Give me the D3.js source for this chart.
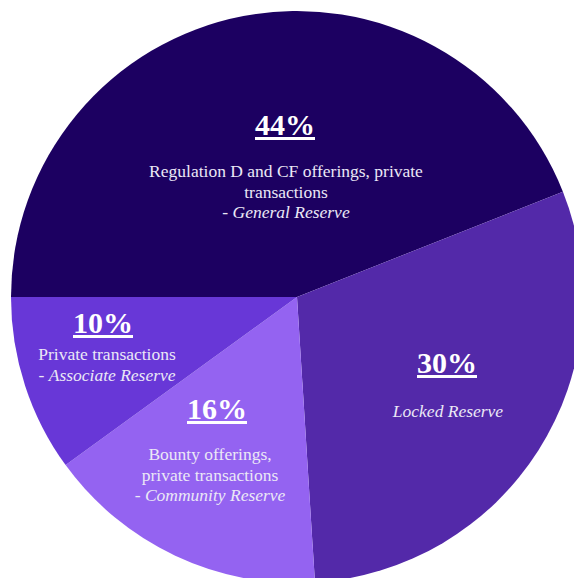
<!DOCTYPE html>
<html>
<head>
<meta charset="utf-8">
<script src="https://cdn.jsdelivr.net/npm/d3@7.9.0/dist/d3.min.js"></script>
<style>
  html, body { margin: 0; padding: 0; background: #fff; }
  svg { display: block; }
  .pct { font-family: "Liberation Serif", "Times New Roman", serif; font-weight: bold; font-size: 30px; fill: #fff; text-decoration: underline; }
  .lbl { font-family: "Liberation Serif", "Times New Roman", serif; font-size: 17.5px; fill: #ebe8f6; }
</style>
</head>
<body>
<svg id="chart" width="574" height="578"></svg>
<script>
// ====== DATA ======
const shares = [44, 30, 16, 10];
const descriptions = [
  ["Regulation D and CF offerings, private", "transactions"],
  [],
  ["Bounty offerings,", "private transactions"],
  ["Private transactions"]
];
const reserves = ["General Reserve", "Locked Reserve", "Community Reserve", "Associate Reserve"];
const colors = ["#1c0061", "#5329a9", "#9463f1", "#6837d7"];

// ====== LAYOUT ======
const cx = 297, cy = 297, radius = 286;

// percentage anchor (px, py) and first description baseline (tx, ty)
const labelLayout = [
  { px: 285, py: 135, tx: 286, ty: 177 },
  { px: 447, py: 373, tx: 448, ty: 417 },
  { px: 217, py: 419, tx: 210, ty: 460 },
  { px: 103, py: 333, tx: 107, ty: 360 }
];
const lineHeight = 20.7;

const svg = d3.select("#chart");
const g = svg.append("g").attr("transform", `translate(${cx},${cy})`);

// start at 9 o'clock, go clockwise
const pie = d3.pie()
  .value(d => d)
  .sort(null)
  .startAngle(-Math.PI / 2)
  .endAngle(1.5 * Math.PI);

const arc = d3.arc().innerRadius(0).outerRadius(radius);

g.selectAll("path")
  .data(pie(shares))
  .join("path")
  .attr("d", arc)
  .attr("fill", (d, i) => colors[i]);

// ====== LABELS ======
shares.forEach((s, i) => {
  const pos = labelLayout[i];
  svg.append("text")
    .attr("class", "pct")
    .attr("x", pos.px)
    .attr("y", pos.py)
    .attr("text-anchor", "middle")
    .text(s + "%");

  let y = pos.ty;
  descriptions[i].forEach(line => {
    svg.append("text")
      .attr("class", "lbl")
      .attr("x", pos.tx)
      .attr("y", y)
      .attr("text-anchor", "middle")
      .text(line);
    y += lineHeight;
  });

  const t = svg.append("text")
    .attr("class", "lbl")
    .attr("x", pos.tx)
    .attr("y", y)
    .attr("text-anchor", "middle");
  if (descriptions[i].length) t.append("tspan").text("- ");
  t.append("tspan").attr("font-style", "italic").text(reserves[i]);
});
</script>
</body>
</html>
